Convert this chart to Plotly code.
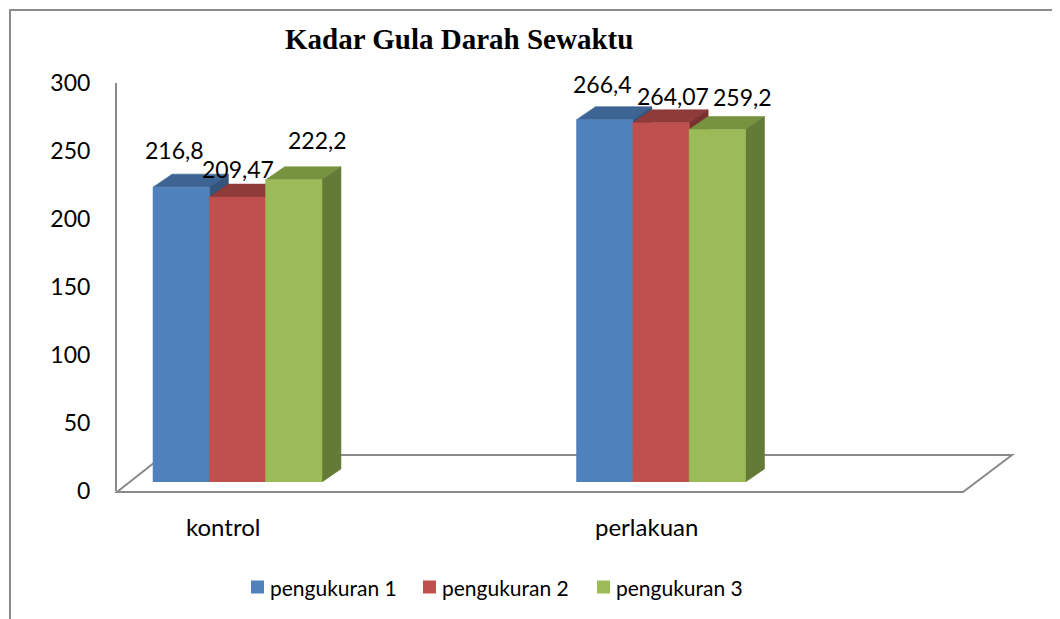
import plotly.graph_objects as go

# ---------------- data ----------------
categories = ["kontrol", "perlakuan"]
series_names = ["pengukuran 1", "pengukuran 2", "pengukuran 3"]
pengukuran_1 = [216.8, 266.4]
pengukuran_2 = [209.47, 264.07]
pengukuran_3 = [222.2, 259.2]
y_ticks = [0, 50, 100, 150, 200, 250, 300]
chart_title = "Kadar Gula Darah Sewaktu"

series_values = [pengukuran_1, pengukuran_2, pengukuran_3]

# ---------------- style ----------------
PAGE_OFF = 8                      # default body margin of the html page
W, H = 1060 - PAGE_OFF, 619 - PAGE_OFF
FONT = "Lato, 'Open Sans', 'Liberation Sans', sans-serif"
front_colors = ["#4F81BD", "#C0504D", "#9BBB59"]
top_colors = ["#3E6493", "#8E3B39", "#77933F"]
side_colors = ["#34547C", "#7A302E", "#647A37"]
GRID_GRAY = "#8A8A8A"

# pixel layout (screen pixels)
X_LEFT_PX, X_RIGHT_PX = 117, 1012
CAT0_PX, CAT_STEP_PX = 237.5, 423.5
BAR_W_PX = 56.3
Y_AX_TOP_PX, Y_AX_BOT_PX = 83, 491       # tick axis (0..300)
BAR_SHIFT_PX = 9                          # bars' front plane sits higher
DEPTH_DX_PX, DEPTH_DY_PX = 19, 13


def pxx(p):
    return (p - PAGE_OFF) / W


def pxy(p):
    return 1 - (p - PAGE_OFF) / H


y_min, y_max = y_ticks[0], y_ticks[-1]
y_px_per_unit = (Y_AX_BOT_PX - Y_AX_TOP_PX) / (y_max - y_min)
x_range = [(X_LEFT_PX - CAT0_PX) / CAT_STEP_PX, (X_RIGHT_PX - CAT0_PX) / CAT_STEP_PX]
bar_w = BAR_W_PX / CAT_STEP_PX
DX = DEPTH_DX_PX / CAT_STEP_PX
DY = DEPTH_DY_PX / y_px_per_unit

fig = go.Figure()

# invisible trace so the tick-axis subplot (x, y) is created
fig.add_trace(go.Scatter(x=[x_range[0]], y=[y_min], xaxis="x", yaxis="y",
                         mode="markers", marker=dict(opacity=0),
                         hoverinfo="skip", showlegend=False))

n_series = len(series_values)
for ci, cat in enumerate(categories):
    for si in range(n_series):
        v = series_values[si][ci]
        xc = ci + (si - (n_series - 1) / 2) * bar_w
        x0, x1 = xc - bar_w / 2, xc + bar_w / 2
        faces = [
            ([x0, x1, x1 + DX, x0 + DX, x0], [v, v, v + DY, v + DY, v], top_colors[si]),
            ([x1, x1 + DX, x1 + DX, x1, x1], [0, DY, v + DY, v, 0], side_colors[si]),
            ([x0, x1, x1, x0, x0], [0, 0, v, v, 0], front_colors[si]),
        ]
        for fx, fy, col in faces:
            fig.add_trace(go.Scatter(
                x=fx, y=fy, xaxis="x", yaxis="y2", mode="lines",
                fill="toself", fillcolor=col,
                line=dict(color=col, width=0.6),
                hoverinfo="skip", showlegend=False,
            ))

# value labels
label_shifts = [
    [(-7, 37), (0, 28), (24, 40)],
    [(-2, 36), (12, 27), (25, 32)],
]
for ci in range(len(categories)):
    for si in range(n_series):
        v = series_values[si][ci]
        xc = ci + (si - (n_series - 1) / 2) * bar_w
        dxs, dys = label_shifts[ci][si]
        fig.add_annotation(
            x=xc, y=v, xref="x", yref="y2", text=str(v).replace(".", ","),
            showarrow=False, xanchor="center", yanchor="middle",
            xshift=dxs, yshift=dys,
            font=dict(family=FONT, size=23, color="black"),
        )

# category labels
for ci, cat in enumerate(categories):
    fig.add_annotation(
        x=ci, y=pxy(526), xref="x", yref="paper", text=cat,
        showarrow=False, xanchor="center", yanchor="middle", xshift=-15,
        font=dict(family=FONT, size=24, color="black"),
    )

# title
fig.add_annotation(
    x=pxx(459), y=pxy(39), xref="paper", yref="paper",
    text="<b>" + chart_title + "</b>", showarrow=False,
    xanchor="center", yanchor="middle",
    font=dict(family="'Liberation Serif', 'Times New Roman', serif", size=29, color="black"),
)

# custom legend
legend_square_px = [251, 423, 597]
LEG_Y = 587
SQ = 13
for si, name in enumerate(series_names):
    sx = legend_square_px[si]
    fig.add_shape(type="rect", xref="paper", yref="paper",
                  x0=pxx(sx), x1=pxx(sx + SQ), y0=pxy(LEG_Y - SQ / 2), y1=pxy(LEG_Y + SQ / 2),
                  fillcolor=front_colors[si], line=dict(width=0))
    fig.add_annotation(x=pxx(sx + SQ + 4), y=pxy(LEG_Y), xref="paper", yref="paper",
                       text=name, showarrow=False, xanchor="left", yanchor="middle",
                       font=dict(family=FONT, size=21, color="black"))

# floor (3D base)
floor_pts = [(117, 492), (963, 492), (1012, 455), (164, 455)]
path = "M " + " L ".join(f"{pxx(a)},{pxy(b)}" for a, b in floor_pts) + " Z"
fig.add_shape(type="path", xref="paper", yref="paper", path=path,
              line=dict(color=GRID_GRAY, width=2), layer="below")

# outer chart border
fig.add_shape(type="rect", xref="paper", yref="paper",
              x0=pxx(10), x1=pxx(1080), y0=pxy(640), y1=pxy(10),
              line=dict(color="#8C8C8C", width=2), layer="below")

fig.update_layout(
    width=W, height=H,
    margin=dict(l=0, r=0, t=0, b=0, pad=0, autoexpand=False),
    paper_bgcolor="white", plot_bgcolor="rgba(0,0,0,0)",
    showlegend=False,
    xaxis=dict(domain=[pxx(X_LEFT_PX), pxx(X_RIGHT_PX)], range=x_range,
               visible=False, fixedrange=True, automargin=False),
    yaxis=dict(domain=[pxy(Y_AX_BOT_PX), pxy(Y_AX_TOP_PX)], range=[y_min, y_max],
               tickvals=y_ticks, ticktext=[str(t) for t in y_ticks],
               showgrid=False, zeroline=False, showline=True,
               linecolor=GRID_GRAY, linewidth=2, ticks="",
               ticklabelstandoff=20, automargin=False,
               tickfont=dict(family=FONT, size=23, color="black"),
               anchor="x", fixedrange=True),
    yaxis2=dict(domain=[pxy(Y_AX_BOT_PX - BAR_SHIFT_PX), pxy(Y_AX_TOP_PX - BAR_SHIFT_PX)],
                range=[y_min, y_max], visible=False, anchor="x", fixedrange=True,
                automargin=False),
)

fig.write_html("out.html")
